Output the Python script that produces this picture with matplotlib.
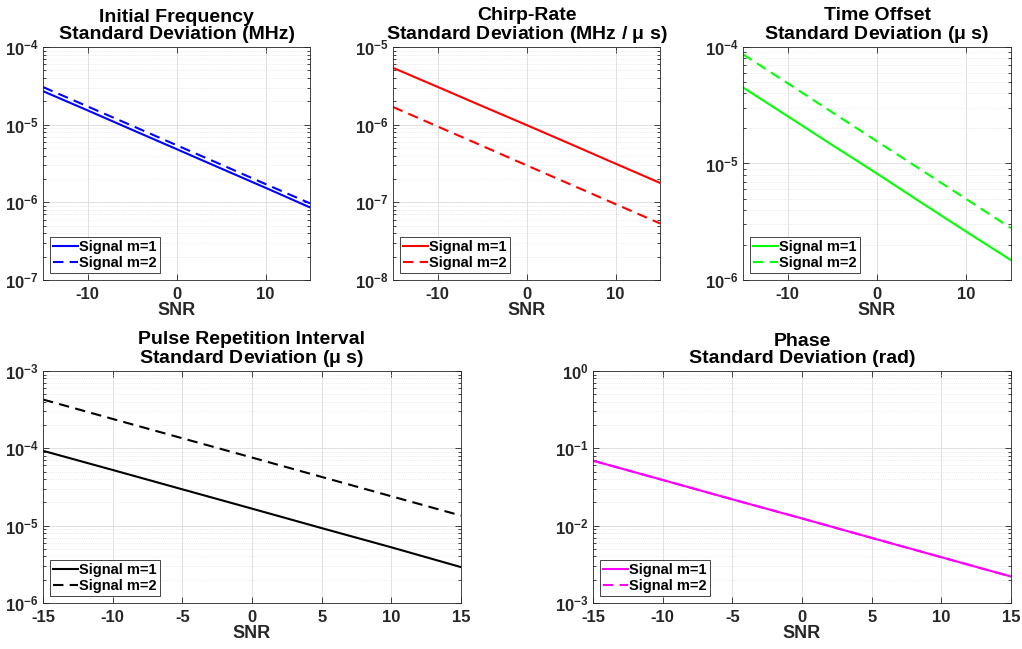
import math
import matplotlib
matplotlib.use('Agg')
import matplotlib.pyplot as plt
from matplotlib.ticker import LogLocator, FuncFormatter, NullFormatter

plt.rcParams['font.family'] = ['Liberation Sans', 'DejaVu Sans']
plt.rcParams['font.weight'] = 'bold'
plt.rcParams['axes.unicode_minus'] = False
plt.rcParams['mathtext.fontset'] = 'custom'
plt.rcParams['mathtext.rm'] = 'Liberation Sans:bold'
plt.rcParams['mathtext.bf'] = 'Liberation Sans:bold'
plt.rcParams['mathtext.it'] = 'Liberation Sans:bold:italic'
plt.rcParams['mathtext.default'] = 'rm'

# SNR (dB)
snr = [-15, -10, -5, 0, 5, 10, 15]

# 初始频率标准差 (MHz)
freq_m1 = [2.7e-5, 1.53e-5, 8.6e-6, 4.85e-6, 2.73e-6, 1.54e-6, 8.6e-7]
freq_m2 = [3.05e-5, 1.72e-5, 9.7e-6, 5.45e-6, 3.07e-6, 1.72e-6, 9.7e-7]

# 调频率标准差 (MHz / us)
chirp_m1 = [5.4e-6, 3.07e-6, 1.74e-6, 9.9e-7, 5.6e-7, 3.15e-7, 1.78e-7]
chirp_m2 = [1.69e-6, 9.5e-7, 5.35e-7, 3.0e-7, 1.69e-7, 9.5e-8, 5.35e-8]

# 时间偏移标准差 (us)
toff_m1 = [4.5e-5, 2.55e-5, 1.44e-5, 8.2e-6, 4.6e-6, 2.6e-6, 1.48e-6]
toff_m2 = [8.66e-5, 4.89e-5, 2.75e-5, 1.55e-5, 8.77e-6, 4.95e-6, 2.79e-6]

# 脉冲重复间隔标准差 (us)
pri_m1 = [9.3e-5, 5.25e-5, 2.95e-5, 1.66e-5, 9.3e-6, 5.25e-6, 2.91e-6]
pri_m2 = [4.28e-4, 2.4e-4, 1.35e-4, 7.6e-5, 4.27e-5, 2.4e-5, 1.35e-5]

# 相位标准差 (rad)
phase_m1 = [6.93e-2, 3.9e-2, 2.19e-2, 1.24e-2, 6.95e-3, 3.91e-3, 2.2e-3]
phase_m2 = [6.93e-2, 3.9e-2, 2.19e-2, 1.24e-2, 6.95e-3, 3.91e-3, 2.2e-3]

W, H = 1022, 649
fig = plt.figure(figsize=(W / 100, H / 100), dpi=100)


def box(l, t, r, b):
    return [l / W, (H - b) / H, (r - l) / W, (b - t) / H]


panels = [
    (box(43, 47, 310, 280), freq_m1, freq_m2, 'blue', (1e-7, 1e-4),
     'Initial Frequency\nStandard Deviation (MHz)', [-10, 0, 10]),
    (box(393, 47, 660, 280), chirp_m1, chirp_m2, 'red', (1e-8, 1e-5),
     'Chirp-Rate\nStandard Deviation (MHz / $\\mu$ s)', [-10, 0, 10]),
    (box(743, 47, 1011, 280), toff_m1, toff_m2, '#00ff00', (1e-6, 1e-4),
     'Time Offset\nStandard Deviation ($\\mu$ s)', [-10, 0, 10]),
    (box(43, 371, 461, 603), pri_m1, pri_m2, 'black', (1e-6, 1e-3),
     'Pulse Repetition Interval\nStandard Deviation ($\\mu$ s)', [-15, -10, -5, 0, 5, 10, 15]),
    (box(593, 371, 1011, 603), phase_m1, phase_m2, 'magenta', (1e-3, 1e0),
     'Phase\nStandard Deviation (rad)', [-15, -10, -5, 0, 5, 10, 15]),
]

fmt = FuncFormatter(lambda v, p: '$10^{%d}$' % round(math.log10(v)))

for rect, m1, m2, col, ylim, title, xt in panels:
    ax = fig.add_axes(rect)
    ax.plot(snr, m1, color=col, lw=1.5, label='Signal m=1')
    ax.plot(snr, m2, color=col, lw=1.5, dashes=(5, 3), label='Signal m=2')
    ax.set_yscale('log')
    ax.set_xlim(-15, 15)
    ax.set_ylim(*ylim)
    ax.set_xticks(xt)
    ax.yaxis.set_major_locator(LogLocator(base=10, numticks=10))
    ax.yaxis.set_minor_locator(LogLocator(base=10, subs=range(2, 10), numticks=10))
    ax.yaxis.set_major_formatter(fmt)
    ax.yaxis.set_minor_formatter(NullFormatter())
    ax.grid(True, which='major', color='#dcdcdc', lw=0.6)
    ax.grid(True, which='minor', axis='y', color='#dcdcdc', lw=0.5, ls=':')
    ax.set_axisbelow(True)
    ax.tick_params(which='both', direction='in', top=True, right=True,
                   colors='#262626', labelsize=12, length=4, width=0.6)
    ax.tick_params(axis='x', pad=5)
    ax.tick_params(axis='y', pad=3)
    ax.tick_params(which='minor', length=2)
    for s in ax.spines.values():
        s.set_color('#262626')
        s.set_linewidth(0.6)
    ax.set_title(title, fontsize=14, fontweight='bold', pad=6, linespacing=1.0)
    ax.set_xlabel('SNR', fontsize=13, fontweight='bold', color='#262626', labelpad=0)
    leg = ax.legend(loc='lower left', fontsize=10.5, fancybox=False, framealpha=1,
                    edgecolor='#262626', handlelength=1.7, handletextpad=0.1,
                    labelspacing=0.15, borderpad=0.2, borderaxespad=0.5)
    leg.get_frame().set_linewidth(0.6)

plt.savefig('out.png', dpi=100)
